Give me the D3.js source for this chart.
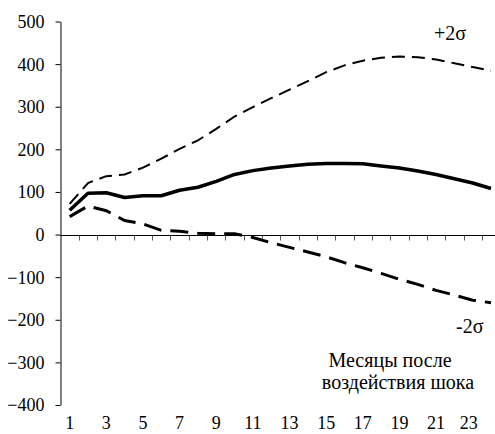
<!DOCTYPE html>
<html>
<head>
<meta charset="utf-8">
<script src="https://cdn.jsdelivr.net/npm/d3@7"></script>
<style>
  body { margin: 0; background: #fff; }
</style>
</head>
<body>
<script>
const width = 495;
const height = 434;
const FONT = '"Liberation Serif"';

// months after the shock
const months = d3.range(1, 25);
const response = [57, 97, 98, 87, 91, 91, 104, 111, 125, 141, 150, 156, 161, 165, 167, 167, 166, 161, 156, 149, 141, 131, 121, 108];
const upper = [72, 121, 137, 141, 157, 178, 201, 221, 248, 277, 299, 320, 340, 360, 381, 397, 408, 415, 418, 416, 411, 402, 393, 385];
const lower = [42, 67, 56, 33, 25, 10, 8, 3, 2, 2, -7, -19, -30, -41, -52, -66, -78, -91, -105, -117, -131, -142, -154, -160];
const yTicks = [-400, -300, -200, -100, 0, 100, 200, 300, 400, 500];
const xLabels = months.filter(m => m % 2 === 1);

const svg = d3.select('body').append('svg')
  .attr('width', width)
  .attr('height', height);

const x = d3.scaleBand()
  .domain(months)
  .range([60.5, 60.5 + 24 * 18.32])
  .padding(0);
const y = d3.scaleLinear()
  .domain([-400, 500])
  .range([405, 21.5]);

const cx = d => x(d) + x.bandwidth() / 2;

// y axis
const yAxis = d3.axisLeft(y).tickValues(yTicks).tickSize(5).tickSizeOuter(0).tickPadding(11);
const gy = svg.append('g')
  .attr('transform', 'translate(60.5,0)')
  .call(yAxis);
gy.selectAll('text')
  .style('font-family', FONT)
  .style('font-size', '18px')
  .attr('fill', '#000')
  .attr('dy', '0.33em');
gy.select('.domain').attr('stroke', '#000');
gy.selectAll('.tick line').attr('stroke', '#000');

// x axis along zero
const zeroY = Math.round(y(0)) + 0.5;
svg.append('line')
  .attr('x1', 60.5).attr('x2', width)
  .attr('y1', zeroY).attr('y2', zeroY)
  .attr('stroke', '#000');
svg.selectAll('.xtick')
  .data(months.slice(1))
  .enter().append('line')
  .attr('class', 'xtick')
  .attr('x1', d => Math.round(x(d)) + 0.5)
  .attr('x2', d => Math.round(x(d)) + 0.5)
  .attr('y1', zeroY)
  .attr('y2', zeroY + 5)
  .attr('stroke', '#555');
svg.selectAll('.xlabel')
  .data(xLabels)
  .enter().append('text')
  .attr('class', 'xlabel')
  .attr('x', d => d === 23 ? cx(d) - 4 : cx(d))
  .attr('y', 429)
  .attr('text-anchor', 'middle')
  .style('font-family', FONT)
  .style('font-size', '18px')
  .text(d => d);

const line = d3.line()
  .x((d, i) => cx(months[i]))
  .y(d => y(d));

svg.append('path')
  .datum(upper)
  .attr('d', line)
  .attr('fill', 'none')
  .attr('stroke', '#000')
  .attr('stroke-width', 2)
  .attr('stroke-dasharray', '13,7');

svg.append('path')
  .datum(lower)
  .attr('d', line)
  .attr('fill', 'none')
  .attr('stroke', '#000')
  .attr('stroke-width', 3)
  .attr('stroke-dasharray', '18,9');

svg.append('path')
  .datum(response)
  .attr('d', line)
  .attr('fill', 'none')
  .attr('stroke', '#000')
  .attr('stroke-width', 3.5)
  .attr('stroke-linejoin', 'round');

// annotations
const note = (tx, ty, s, anchor) => svg.append('text')
  .attr('x', tx).attr('y', ty)
  .attr('text-anchor', anchor || 'start')
  .style('font-family', FONT)
  .style('font-size', '20px')
  .text(s);
note(434, 40, '+2σ');
note(456, 333, '-2σ');
note(390, 367, 'Месяцы после', 'middle');
note(398, 389, 'воздействия шока', 'middle');
</script>
</body>
</html>
